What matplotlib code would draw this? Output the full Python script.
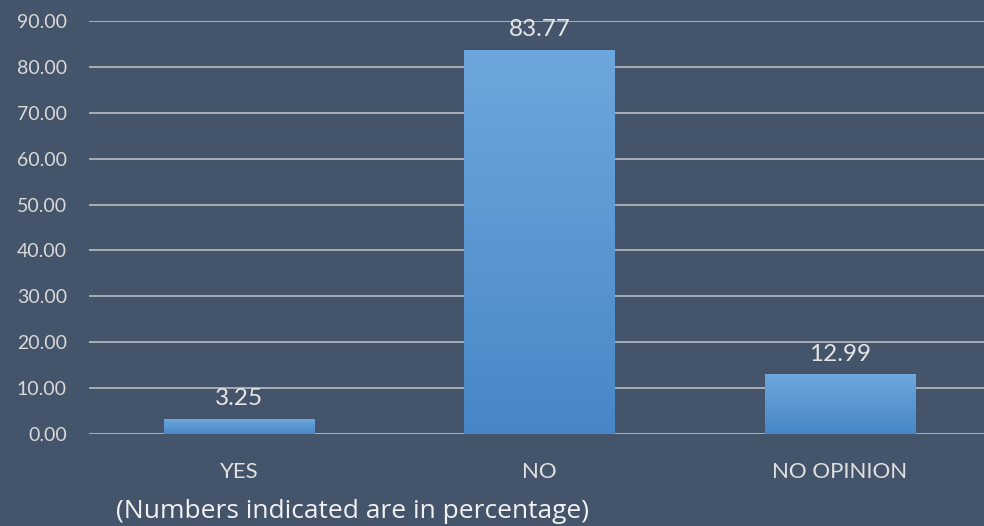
import numpy as np
import matplotlib
matplotlib.use('Agg')
import matplotlib.pyplot as plt
from matplotlib.colors import LinearSegmentedColormap

categories = ['YES', 'NO', 'NO OPINION']
values = [3.25, 83.77, 12.99]
yticks = [0, 10, 20, 30, 40, 50, 60, 70, 80, 90]
note = '(Numbers indicated are in percentage)'

bg = '#44546A'
fig = plt.figure(figsize=(9.84, 5.26), dpi=100, facecolor=bg)
ax = fig.add_axes([89/984, 92/526, 901/984, 413/526], facecolor=bg)

x = np.arange(len(categories))
bars = ax.bar(x, values, width=0.5, color='none', zorder=3)

# vertical gradient inside each bar, light at top
cmap = LinearSegmentedColormap.from_list('bar', ['#4787C7', '#6EA7DD'])
grad = np.linspace(0, 1, 256).reshape(-1, 1)
for b in bars:
    x0, y0 = b.get_x(), b.get_y()
    im = ax.imshow(grad, cmap=cmap, origin='lower', aspect='auto',
                   extent=[x0, x0 + b.get_width(), y0, y0 + b.get_height()], zorder=3)
    im.set_clip_path(b)

for xi, v in zip(x, values):
    ax.annotate(f'{v:.2f}', (xi, v), xytext=(0, 7), textcoords='offset points',
                ha='center', va='bottom', fontsize=17.5, color='#E4E4E4', family='Lato')

ax.set_xlim(-0.5, 2.5)
ax.set_ylim(0, 90)
ax.set_yticks(yticks)
ax.set_yticklabels([f'{t:.2f}' for t in yticks])
ax.set_xticks(x)
ax.set_xticklabels(categories)
ax.grid(axis='y', color='#A9ADB5', linewidth=1.4, zorder=0)
ax.set_axisbelow(True)
for s in ax.spines.values():
    s.set_visible(False)
ax.tick_params(axis='y', length=0, pad=16, labelsize=14, labelcolor='#D9D9D9')
ax.tick_params(axis='x', length=0, pad=20, labelsize=16, labelcolor='#E0E0E0')
for lab in ax.get_xticklabels() + ax.get_yticklabels():
    lab.set_family('Lato')

fig.text(116/984, 1 - 511/526, note, ha='left', va='center', fontsize=19,
         color='#F2F2F2', family='Open Sans')

fig.savefig('out.png', dpi=100, facecolor=bg)
